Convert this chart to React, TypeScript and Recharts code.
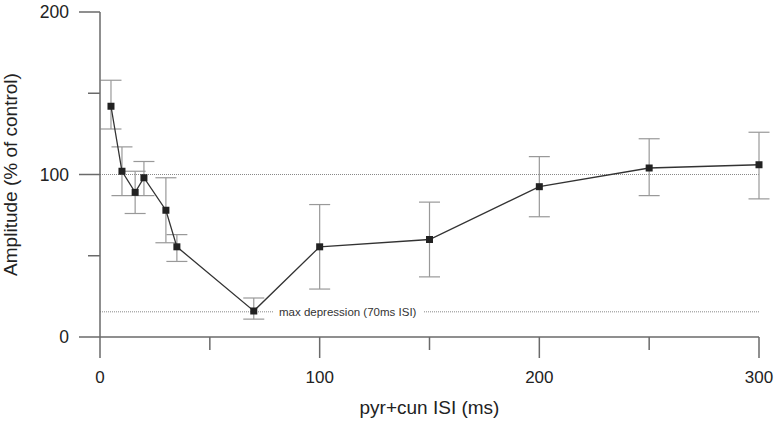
import { LineChart, Line, XAxis, YAxis, ErrorBar, ReferenceLine } from 'recharts';

// paired-pulse ISI (ms) and response amplitude (% of control)
const isi = [5, 10, 16, 20, 30, 35, 70, 100, 150, 200, 250, 300];
const amplitude = [142, 102, 89, 98, 78, 55.5, 16, 55.5, 60, 92.5, 104, 106];
const errUp = [16, 15, 13, 10, 20, 7.5, 8, 26, 23, 18.5, 18, 20];
const errDown = [14, 15, 13, 11, 20, 9, 5, 26, 23, 18.5, 17, 21];

const xTicks = [0, 50, 100, 150, 200, 250, 300];
const yTicks = [0, 50, 100, 150, 200];
const xLabelled = [0, 100, 200, 300];
const yLabelled = [0, 100, 200];

const controlLevel = 100;
const maxDepression = 15.5;
const maxDepressionText = 'max depression (70ms ISI)';

const data = isi.map((x, i) => ({
  isi: x,
  amp: amplitude[i],
  err: [errDown[i], errUp[i]],
}));

const FONT = '"Liberation Sans", Arial, sans-serif';
const AXIS = '#6a6a6a';

function XTick({ x, y, payload }: any) {
  const major = xLabelled.includes(payload.value);
  return (
    <g>
      <line x1={x} x2={x} y1={y} y2={y + (major ? 21 : 13)} stroke={AXIS} strokeWidth={1.5} />
      {major && (
        <text x={x} y={y + 46} textAnchor="middle" fontSize={17} fontFamily={FONT} fill="#222">
          {payload.value}
        </text>
      )}
    </g>
  );
}

function YTick({ x, y, payload }: any) {
  const major = yLabelled.includes(payload.value);
  return (
    <g>
      <line x1={x - (major ? 21 : 12)} x2={x} y1={y} y2={y} stroke={AXIS} strokeWidth={1.5} />
      {major && (
        <text x={x - 31} y={y + 6} textAnchor="end" fontSize={17.5} fontFamily={FONT} fill="#222">
          {payload.value}
        </text>
      )}
    </g>
  );
}

function Square({ cx, cy }: any) {
  if (cx == null || cy == null) return null;
  return <rect x={cx - 3.5} y={cy - 3.5} width={7} height={7} fill="#222" />;
}

export default function App() {
  return (
    <div style={{ position: 'absolute', left: 0, top: 0 }}>
      <LineChart
        width={774}
        height={429}
        data={data}
        margin={{ top: 12, right: 15, left: 0, bottom: 0 }}
      >
        <XAxis
          type="number"
          dataKey="isi"
          domain={[0, 300]}
          ticks={xTicks}
          interval={0}
          tickSize={0}
          tickMargin={0}
          tickLine={false}
          height={92}
          stroke={AXIS}
          strokeWidth={1.5}
          tick={(p: any) => <XTick {...p} />}
          label={(p: any) => {
            const vb = p.viewBox;
            return (
              <text x={vb.x + vb.width / 2} y={vb.y + 77} textAnchor="middle" fontSize={19} fontFamily={FONT} fill="#222">
                pyr+cun ISI (ms)
              </text>
            );
          }}
        />
        <YAxis
          type="number"
          domain={[0, 200]}
          ticks={yTicks}
          interval={0}
          tickSize={0}
          tickMargin={0}
          tickLine={false}
          width={100}
          stroke={AXIS}
          strokeWidth={1.5}
          tick={(p: any) => <YTick {...p} />}
          label={(p: any) => {
            const vb = p.viewBox;
            const cy = vb.y + vb.height / 2;
            return (
              <text
                x={17}
                y={cy}
                transform={`rotate(-90, 17, ${cy})`}
                textAnchor="middle"
                fontSize={19}
                fontFamily={FONT}
                fill="#222"
              >
                Amplitude (% of control)
              </text>
            );
          }}
        />
        <ReferenceLine y={controlLevel} stroke="#888" strokeDasharray="1 1" strokeWidth={1} />
        <ReferenceLine
          y={maxDepression}
          stroke="#888"
          strokeDasharray="1 1"
          strokeWidth={1}
          label={(p: any) => {
            const vb = p.viewBox;
            const tx = vb.x + 179;
            return (
              <g>
                <rect x={tx - 6} y={vb.y - 7} width={150} height={14} fill="#fff" />
                <text x={tx} y={vb.y + 4} fontSize={11.5} fontFamily={FONT} fill="#333">
                  {maxDepressionText}
                </text>
              </g>
            );
          }}
        />
        <Line
          type="linear"
          dataKey="amp"
          stroke="#333"
          strokeWidth={1.3}
          dot={(p: any) => <Square key={p.index} {...p} />}
          activeDot={false}
          isAnimationActive={false}
        >
          <ErrorBar dataKey="err" width={10.5} stroke="#999" strokeWidth={1.2} />
        </Line>
      </LineChart>
    </div>
  );
}
